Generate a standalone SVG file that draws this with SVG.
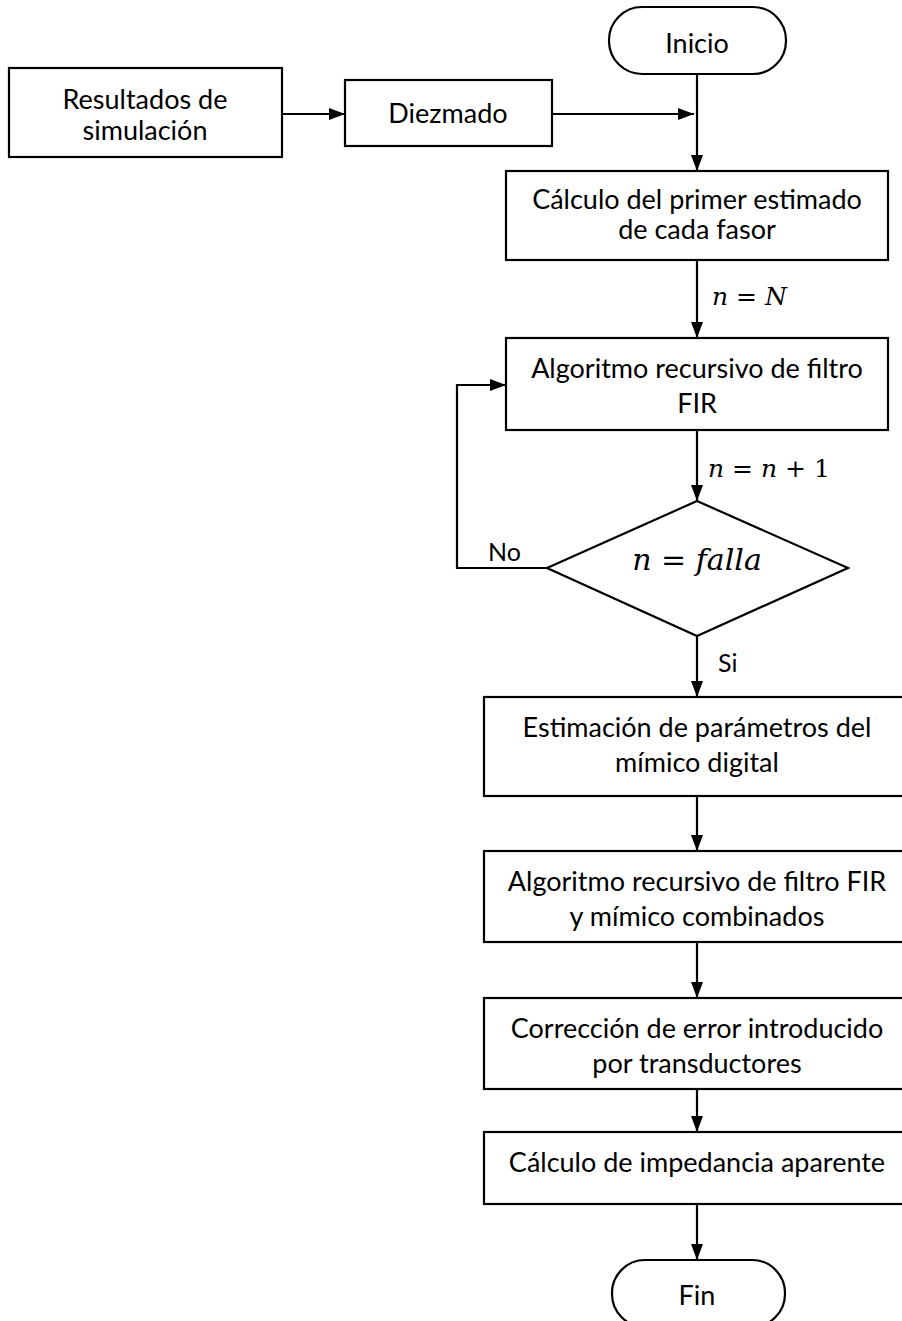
<svg xmlns="http://www.w3.org/2000/svg" width="902" height="1321" viewBox="0 0 902 1321">
<defs>
<marker id="ah" viewBox="0 0 16 12" refX="16" refY="6" markerWidth="16" markerHeight="12" markerUnits="userSpaceOnUse" orient="auto">
<path d="M0,0 L16,6 L0,12 Z" fill="#000"/>
</marker>
<style>
.box{fill:#fff;stroke:#000;stroke-width:2.2}
.t{font-family:Lato,"Liberation Sans",sans-serif;font-size:27px;fill:#000;text-anchor:middle}
.l{font-family:Lato,"Liberation Sans",sans-serif;font-size:25px;fill:#000}
.m{font-family:"DejaVu Serif","Liberation Serif",serif;font-size:25px;fill:#000}
.mb{font-family:"DejaVu Serif","Liberation Serif",serif;font-size:30px;fill:#000;text-anchor:middle}
.c{fill:none;stroke:#000;stroke-width:2.2}
</style>
</defs>
<rect width="902" height="1321" fill="#fff"/>
<g id="connectors">
<line class="c" x1="282" y1="114" x2="345" y2="114" marker-end="url(#ah)"/>
<line class="c" x1="552" y1="114" x2="694" y2="114" marker-end="url(#ah)"/>
<line class="c" x1="697" y1="74" x2="697" y2="171" marker-end="url(#ah)"/>
<line class="c" x1="697" y1="260" x2="697" y2="338" marker-end="url(#ah)"/>
<line class="c" x1="697" y1="430" x2="697" y2="501" marker-end="url(#ah)"/>
<polyline class="c" points="547,568 457,568 457,385 506,385" marker-end="url(#ah)"/>
<line class="c" x1="697" y1="636" x2="697" y2="697" marker-end="url(#ah)"/>
<line class="c" x1="697" y1="796" x2="697" y2="851" marker-end="url(#ah)"/>
<line class="c" x1="697" y1="942" x2="697" y2="998" marker-end="url(#ah)"/>
<line class="c" x1="697" y1="1089" x2="697" y2="1132" marker-end="url(#ah)"/>
<line class="c" x1="697" y1="1204" x2="697" y2="1260" marker-end="url(#ah)"/>
<text class="m" x="712" y="305"><tspan font-style="italic">n</tspan> = <tspan font-style="italic">N</tspan></text>
<text class="m" x="708" y="477"><tspan font-style="italic">n</tspan> = <tspan font-style="italic">n</tspan> + 1</text>
<text class="l" x="488" y="561">No</text>
<text class="l" x="718" y="672">Si</text>
</g>
<g id="inicio">
<rect class="box" x="609" y="7" width="177" height="67" rx="33" ry="33"/>
<text class="t" x="697" y="53">Inicio</text>
</g>
<g id="resultados">
<rect class="box" x="9" y="68" width="273" height="89"/>
<text class="t" x="145" y="109">Resultados de</text>
<text class="t" x="145" y="140">simulación</text>
</g>
<g id="diezmado">
<rect class="box" x="345" y="80" width="207" height="66"/>
<text class="t" x="448" y="123">Diezmado</text>
</g>
<g id="calculo1">
<rect class="box" x="506" y="171" width="382" height="89"/>
<text class="t" x="697" y="209">Cálculo del primer estimado</text>
<text class="t" x="697" y="239">de cada fasor</text>
</g>
<g id="algoritmo1">
<rect class="box" x="506" y="338" width="382" height="92"/>
<text class="t" x="697" y="378">Algoritmo recursivo de filtro</text>
<text class="t" x="697" y="413">FIR</text>
</g>
<g id="decision">
<polygon class="box" points="697,501 848,568 697,636 547,568"/>
<text class="mb" x="697" y="570"><tspan font-style="italic">n</tspan> = <tspan font-style="italic">falla</tspan></text>
</g>
<g id="estimacion">
<rect class="box" x="484" y="697" width="427" height="99"/>
<text class="t" x="697" y="737">Estimación de parámetros del</text>
<text class="t" x="697" y="772">mímico digital</text>
</g>
<g id="algoritmo2">
<rect class="box" x="484" y="851" width="427" height="91"/>
<text class="t" x="697" y="891">Algoritmo recursivo de filtro FIR</text>
<text class="t" x="697" y="926">y mímico combinados</text>
</g>
<g id="correccion">
<rect class="box" x="484" y="998" width="427" height="91"/>
<text class="t" x="697" y="1038">Corrección de error introducido</text>
<text class="t" x="697" y="1073">por transductores</text>
</g>
<g id="impedancia">
<rect class="box" x="484" y="1132" width="427" height="72"/>
<text class="t" x="697" y="1172">Cálculo de impedancia aparente</text>
</g>
<g id="fin">
<rect class="box" x="612" y="1260" width="173" height="67" rx="33" ry="33"/>
<text class="t" x="697" y="1305">Fin</text>
</g>
</svg>
